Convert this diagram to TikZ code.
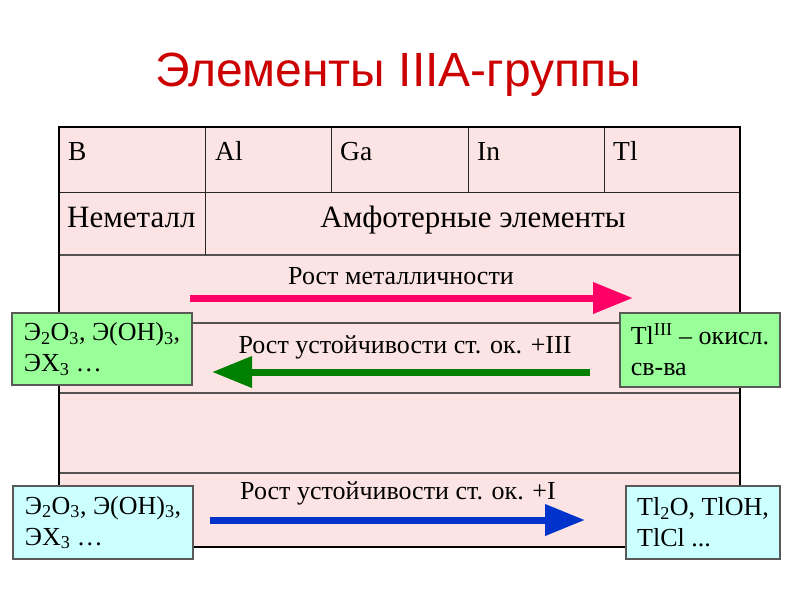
\documentclass[tikz,border=0pt]{standalone}
\usepackage{fontspec}
\setmainfont{Liberation Serif}
\newfontfamily\titlefont{Liberation Sans}
\usetikzlibrary{arrows.meta}
\definecolor{tablefill}{RGB}{253,228,228}
\definecolor{titlered}{RGB}{204,0,0}
\definecolor{boxgreen}{RGB}{153,255,153}
\definecolor{boxcyan}{RGB}{204,255,255}
\definecolor{arrpink}{RGB}{255,0,102}
\definecolor{arrgreen}{RGB}{0,128,0}
\definecolor{arrblue}{RGB}{0,51,204}
\begin{document}
\begin{tikzpicture}[x=1pt,y=-1pt,
  cell/.style={anchor=base west,inner sep=0pt,font=\fontsize{27.5}{32}\selectfont},
  bigcell/.style={inner sep=0pt,font=\fontsize{31}{36}\selectfont},
  lbl/.style={inner sep=0pt,font=\fontsize{26}{31}\selectfont},
  infobox/.style={draw=gray!70!black,line width=1.2pt,align=left,inner sep=0pt,font=\fontsize{26}{31}\selectfont},
  bigarrow/.style={line width=7pt,-{Triangle[length=40pt,width=30pt]}},
  rowline/.style={draw=gray!65!black,line width=1.5pt},
  colline/.style={draw=black!85,line width=1pt}]
\useasboundingbox (0,0) rectangle (800,600);
\fill[white] (0,0) rectangle (800,600);
\node[font=\titlefont\fontsize{48}{52}\selectfont,text=titlered,inner sep=0pt] (title) at (398,75) {Элементы IIIA-группы};
% table
\fill[tablefill] (59,127) rectangle (740,547);
\draw[colline] (59,192) -- (740,192);
\draw[rowline] (59,255) -- (740,255);
\draw[rowline] (59,323) -- (740,323);
\draw[rowline] (59,393) -- (740,393);
\draw[rowline] (59,473) -- (740,473);
\draw[colline] (205,127) -- (205,255);
\draw[colline] (331,127) -- (331,192);
\draw[colline] (468,127) -- (468,192);
\draw[colline] (604,127) -- (604,192);
\draw[line width=1.8pt] (59,127) rectangle (740,547);
\node[cell] (cB) at (68,160) {B};
\node[cell] (cAl) at (215,160) {Al};
\node[cell] (cGa) at (340,160) {Ga};
\node[cell] (cIn) at (477,160) {In};
\node[cell] (cTl) at (613,160) {Tl};
\node[bigcell,anchor=base west] (cNm) at (67,227) {Неметалл};
\node[bigcell,anchor=base] (cAmph) at (473,227) {Амфотерные элементы};
% arrow labels
\node[lbl] (l1) at (401,276) {Рост металличности};
\node[lbl] (l2) at (405,347) {Рост устойчивости ст. ок. +III};
\node[lbl] (l3) at (398,493) {Рост устойчивости ст. ок. +I};
% arrows
\coordinate (a1s) at (190,298);
\coordinate (a1e) at (633,298);
\coordinate (a2s) at (590,372);
\coordinate (a2e) at (212,372);
\coordinate (a3s) at (210,520);
\coordinate (a3e) at (585,520);
\draw[bigarrow,arrpink] (a1s) -- (a1e);
\draw[bigarrow,arrgreen] (a2s) -- (a2e);
\draw[bigarrow,arrblue] (a3s) -- (a3e);
% boxes
\node[infobox,fill=boxgreen,minimum width=180pt,minimum height=72pt] (bgl) at (102,349)
  {Э\textsubscript{2}O\textsubscript{3}, Э(OH)\textsubscript{3},\\ЭX\textsubscript{3} …};
\node[infobox,fill=boxgreen,minimum width=160pt,minimum height=74pt] (bgr) at (700,350)
  {Tl\textsuperscript{III} – окисл.\\св-ва};
\node[infobox,fill=boxcyan,minimum width=180pt,minimum height=73pt] (bcl) at (103,522.5)
  {Э\textsubscript{2}O\textsubscript{3}, Э(OH)\textsubscript{3},\\ЭX\textsubscript{3} …};
\node[infobox,fill=boxcyan,minimum width=154pt,minimum height=73pt] (bcr) at (703,522.5)
  {Tl\textsubscript{2}O, TlOH,\\TlCl ...};
\end{tikzpicture}
\end{document}
